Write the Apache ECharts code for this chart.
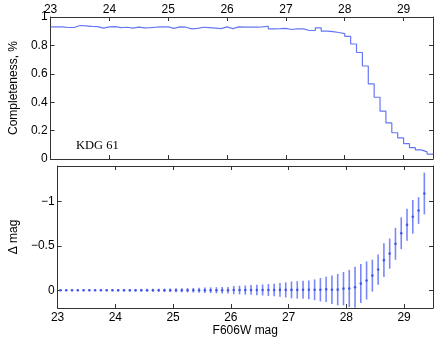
<!DOCTYPE html>
<html lang="en">
<head>
    <meta charset="UTF-8">
    <title>KDG 61 completeness</title>
    <script src="https://cdn.jsdelivr.net/npm/echarts@6/dist/echarts.min.js"></script>
</head>
<body style="margin:0">
<div id="main" style="width: 436px;height:340px;"></div>
<script type="text/javascript">
    // top panel: completeness per 0.1 mag bin, bins start at 23.0
    var binStart = 23.0, binWidth = 0.1;
    var completeness = [
        0.930, 0.930, 0.926, 0.926, 0.940, 0.938, 0.934, 0.932, 0.922, 0.930,
        0.932, 0.925, 0.928, 0.922, 0.929, 0.924, 0.925, 0.928, 0.930, 0.930,
        0.920, 0.930, 0.928, 0.916, 0.920, 0.928, 0.925, 0.922, 0.918, 0.930,
        0.918, 0.930, 0.928, 0.929, 0.928, 0.930, 0.935, 0.917, 0.918, 0.920,
        0.912, 0.917, 0.916, 0.905, 0.905, 0.924, 0.900, 0.897, 0.891, 0.883,
        0.864, 0.810, 0.750, 0.655, 0.529, 0.435, 0.337, 0.254, 0.185, 0.149,
        0.108, 0.080, 0.064, 0.050, 0.035
    ];

    // bottom panel: mean offset (input - output) and its scatter, at bin centres
    var dmag = [
        0, 0, 0, 0, 0, 0, 0, 0, 0, 0,
        0, 0, 0, 0, 0, 0, 0, 0, 0, 0,
        0, 0, 0, 0, 0, 0, 0, 0, 0, 0,
        -0.002, -0.002, -0.002, -0.003, -0.003, -0.003, -0.003, -0.003, -0.004, -0.004,
        -0.004, -0.004, -0.005, -0.005, -0.005, -0.006, -0.010, -0.006, -0.007, -0.018,
        -0.020, -0.034, -0.075, -0.110, -0.165, -0.233, -0.339, -0.413, -0.523, -0.643,
        -0.737, -0.827, -0.898, -1.090
    ];
    var dmagErr = [
        0.010, 0.010, 0.010, 0.011, 0.011, 0.011, 0.012, 0.012, 0.012, 0.013,
        0.014, 0.014, 0.015, 0.015, 0.016, 0.017, 0.017, 0.018, 0.019, 0.020,
        0.022, 0.023, 0.025, 0.026, 0.028, 0.030, 0.032, 0.034, 0.036, 0.038,
        0.046, 0.049, 0.052, 0.055, 0.058, 0.062, 0.067, 0.071, 0.077, 0.085,
        0.095, 0.098, 0.102, 0.106, 0.117, 0.132, 0.143, 0.160, 0.177, 0.188,
        0.210, 0.230, 0.220, 0.215, 0.180, 0.170, 0.190, 0.170, 0.180, 0.180,
        0.180, 0.190, 0.150, 0.235
    ];

    var magTicks = [23, 24, 25, 26, 27, 28, 29];
    var dmagTicks = [-1, -0.5, 0];

    var stepData = completeness.map(function (v, i) {
        return [+(binStart + i * binWidth).toFixed(2), v];
    });
    stepData.push([+(binStart + completeness.length * binWidth).toFixed(2), completeness[completeness.length - 1]]);

    var centres = dmag.map(function (v, i) {
        return +(binStart + (i + 0.5) * binWidth).toFixed(2);
    });
    var pointData = dmag.map(function (v, i) { return [centres[i], v]; });
    var barData = dmag.map(function (v, i) { return [centres[i], v - dmagErr[i], v + dmagErr[i]]; });

    var font = 'Liberation Sans, Arial, sans-serif';
    var frame = {show: true, onZero: false, lineStyle: {color: '#333', width: 1}};
    var tickIn = {show: true, inside: true, length: 4, lineStyle: {color: '#333'}};
    var noLabel = {show: false};

    function minus(v) {
        return String(v).replace('-', '\u2212');
    }

    var myChart = echarts.init(document.getElementById('main'));
    var option = {
        animation: false,
        textStyle: {fontFamily: font},
        grid: [
            {left: 45, right: 3, top: 17, height: 142},
            {left: 45, right: 3, top: 166, height: 142}
        ],
        xAxis: [
            {
                type: 'value', gridIndex: 0, position: 'top', min: 23, max: 29.5,
                axisLine: frame,
                axisTick: Object.assign({customValues: magTicks}, tickIn),
                axisLabel: {customValues: magTicks, fontSize: 12, color: '#000', margin: 1, fontFamily: font},
                splitLine: {show: false}
            },
            {
                type: 'value', gridIndex: 0, position: 'bottom', min: 23, max: 29.5,
                axisLine: frame,
                axisTick: Object.assign({customValues: magTicks}, tickIn),
                axisLabel: noLabel, splitLine: {show: false}
            },
            {
                type: 'value', gridIndex: 1, position: 'bottom', min: 23, max: 29.5,
                axisLine: frame,
                axisTick: Object.assign({customValues: magTicks}, tickIn),
                axisLabel: {customValues: magTicks, fontSize: 12, color: '#000', margin: 4, fontFamily: font},
                splitLine: {show: false},
                name: 'F606W mag', nameLocation: 'middle', nameGap: 16,
                nameTextStyle: {fontSize: 12, color: '#000', fontFamily: font}
            },
            {
                type: 'value', gridIndex: 1, position: 'top', min: 23, max: 29.5,
                axisLine: frame,
                axisTick: Object.assign({customValues: magTicks}, tickIn),
                axisLabel: noLabel, splitLine: {show: false}
            }
        ],
        yAxis: [
            {
                type: 'value', gridIndex: 0, position: 'left', min: 0, max: 1, interval: 0.2,
                axisLine: frame, axisTick: tickIn,
                axisLabel: {fontSize: 12, color: '#000', margin: 3, fontFamily: font},
                splitLine: {show: false},
                name: 'Completeness, %', nameLocation: 'middle', nameGap: 24,
                nameTextStyle: {fontSize: 12, color: '#000', fontFamily: font}
            },
            {
                type: 'value', gridIndex: 0, position: 'right', min: 0, max: 1, interval: 0.2,
                axisLine: frame, axisTick: tickIn, axisLabel: noLabel, splitLine: {show: false}
            },
            {
                type: 'value', gridIndex: 1, position: 'left', min: -1.4, max: 0.2, inverse: true,
                axisLine: frame,
                axisTick: Object.assign({customValues: dmagTicks}, tickIn),
                axisLabel: {customValues: dmagTicks, formatter: minus, fontSize: 12, color: '#000', margin: 3, fontFamily: font},
                splitLine: {show: false},
                name: '\u0394 mag', nameLocation: 'middle', nameGap: 24,
                nameTextStyle: {fontSize: 12, color: '#000', fontFamily: font}
            },
            {
                type: 'value', gridIndex: 1, position: 'right', min: -1.4, max: 0.2, inverse: true,
                axisLine: frame,
                axisTick: Object.assign({customValues: dmagTicks}, tickIn),
                axisLabel: noLabel, splitLine: {show: false}
            }
        ],
        graphic: [{
            type: 'text', left: 76, top: 139,
            style: {text: 'KDG 61', font: '12.5px "Liberation Serif", "Times New Roman", serif', fill: '#000'}
        }],
        series: [
            {
                type: 'line', xAxisIndex: 0, yAxisIndex: 0, step: 'end',
                data: stepData, showSymbol: false,
                lineStyle: {color: '#6677f4', width: 1.2}
            },
            {
                type: 'custom', xAxisIndex: 2, yAxisIndex: 2, clip: true,
                data: barData,
                renderItem: function (params, api) {
                    var p1 = api.coord([api.value(0), api.value(1)]);
                    var p2 = api.coord([api.value(0), api.value(2)]);
                    return {
                        type: 'line',
                        shape: {x1: p1[0], y1: p1[1], x2: p2[0], y2: p2[1]},
                        style: {stroke: '#7a88f7', lineWidth: 1.6}
                    };
                }
            },
            {
                type: 'scatter', xAxisIndex: 2, yAxisIndex: 2,
                data: pointData, symbolSize: 2.6,
                itemStyle: {color: '#2f43ea'}
            }
        ]
    };
    myChart.setOption(option);
</script>
</body>
</html>
